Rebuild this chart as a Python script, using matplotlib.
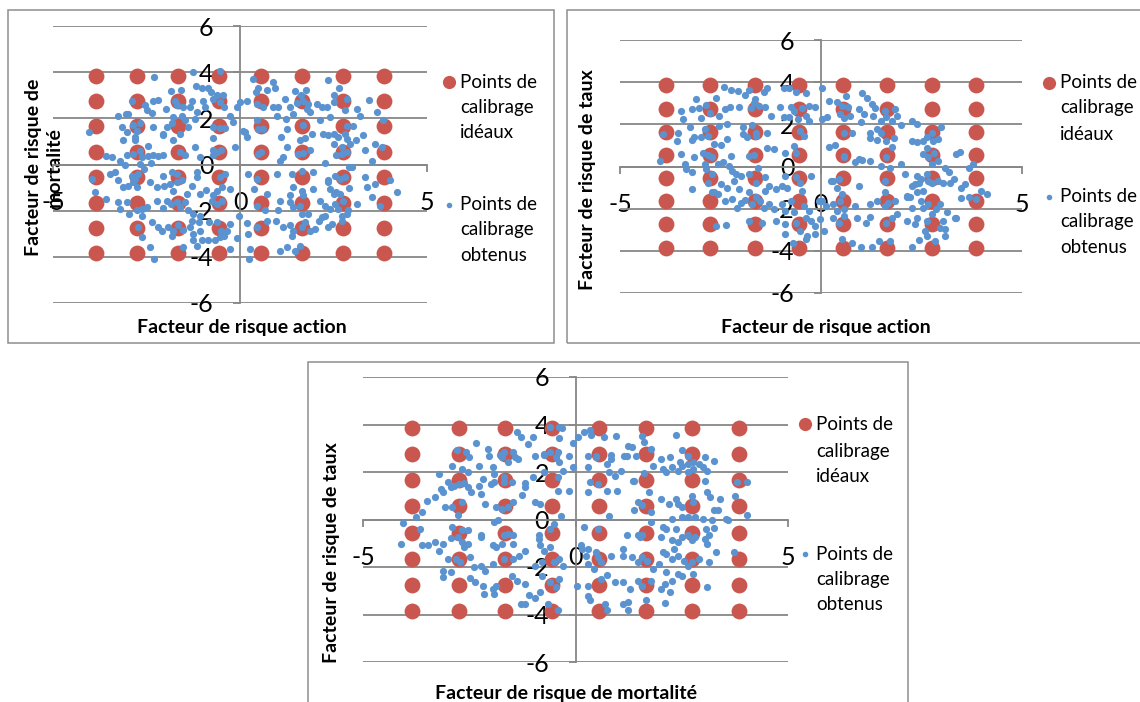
import matplotlib.pyplot as plt
from matplotlib.lines import Line2D
from matplotlib.patches import Rectangle
import numpy as np

plt.rcParams['font.family'] = ['Lato', 'DejaVu Sans']
plt.rcParams['axes.unicode_minus'] = False

W, H = 1140, 702
RED = '#C9574F'
BLUE = '#5A93CF'
GRID = '#878787'

# ideal calibration grid (same levels on both factors)
ideal_levels = [-3.85, -2.75, -1.65, -0.55, 0.55, 1.65, 2.75, 3.85]
x_ticks = [-5, 0, 5]
y_ticks = [-6, -4, -2, 0, 2, 4, 6]

legend_ideal = ['Points de', 'calibrage', 'idéaux']
legend_obtained = ['Points de', 'calibrage', 'obtenus']

# obtained calibration points (x, y)
obtenus_action_mortalite = [
    (-1.25, 4.0), (-0.53, 4.03), (-2.29, 3.79), (0.36, 3.71), (0.87, 3.57), (2.36, 3.67),
    (-1.18, 3.38), (-1.02, 3.32), (-0.85, 3.32), (-0.78, 3.14), (-0.62, 2.99), (-0.46, 3.02),
    (-1.85, 3.18), (-1.59, 3.21), (0.49, 3.32), (0.43, 3.14), (0.71, 3.24), (0.94, 3.32),
    (1.47, 3.18), (1.76, 3.24), (1.63, 3.03), (2.66, 3.32), (2.52, 2.99), (-2.9, 2.77),
    (-2.32, 2.77), (-2.18, 2.8), (-2.54, 2.56), (-2.5, 2.34), (-2.34, 2.23), (-1.98, 2.41),
    (-1.74, 2.77), (-1.68, 2.56), (-1.53, 2.49), (-1.29, 2.77), (-1.35, 2.51), (-0.98, 2.77),
    (-0.94, 2.51), (-0.71, 2.85), (-0.53, 2.7), (-0.43, 2.51), (-0.27, 2.08), (-0.07, 2.51),
    (0.0, 2.7), (0.2, 2.77), (0.45, 2.63), (0.62, 2.51), (0.87, 2.49), (1.02, 2.51),
    (1.2, 2.85), (1.34, 2.51), (1.52, 2.66), (1.69, 2.77), (1.83, 2.63), (1.78, 2.41),
    (2.05, 2.63), (2.18, 2.49), (2.32, 2.51), (2.5, 2.7), (2.81, 2.34), (3.12, 2.41), (3.46, 2.8),
    (2.85, 2.85), (-3.05, 2.17),
    (-3.25, 2.12), (-2.99, 2.2), (-2.85, 1.73), (-2.67, 1.79), (-2.76, 1.47), (-2.81, 1.18),
    (-3.16, 1.62), (-2.32, 1.62), (-2.07, 1.33), (-1.96, 1.62), (-1.83, 1.79), (-1.78, 2.05),
    (-1.56, 2.12), (-1.47, 1.94), (-1.38, 1.62), (-1.2, 1.98), (-1.16, 2.27), (-0.71, 1.62),
    (-0.53, 1.59), (-0.4, 1.59), (-0.18, 1.84), (0.09, 1.47), (0.45, 1.91), (0.49, 1.55),
    (0.62, 1.55), (0.98, 2.08), (1.23, 1.98), (1.25, 1.55), (1.43, 2.17), (1.69, 1.69),
    (1.87, 2.27), (2.14, 1.94), (2.41, 2.05), (2.85, 1.65), (3.03, 1.65), (3.21, 2.08),
    (3.65, 2.27), (3.83, 1.91), (-4.03, 1.4),
    (-3.03, 1.4), (-2.81, 1.07), (-2.05, 1.26), (-1.78, 1.04), (-1.6, 1.33), (-1.2, 0.75),
    (-0.73, 1.16), (-0.13, 0.75), (0.13, 1.4), (0.2, 1.18), (1.09, 1.18), (1.25, 0.75),
    (1.6, 1.04), (1.74, 1.16), (1.92, 1.3), (2.21, 1.33), (2.36, 1.26), (2.5, 1.33),
    (2.63, 1.18), (2.81, 1.33), (2.85, 1.11), (2.94, 0.9), (3.1, 1.04), (3.3, 1.26),
    (3.61, 0.9), (3.81, 0.75), (2.5, 0.9), (2.72, 0.75), (-2.45, 0.82), (-3.12, 1.04),
    (-3.57, 0.35), (-3.43, 0.32), (-3.21, 0.17), (-3.03, 0.39), (-2.87, 0.46), (-2.67, 0.58),
    (-2.63, 0.32), (-2.45, 0.35), (-2.32, 0.39), (-2.18, 0.35), (-2.07, 0.39), (-2.67, 0.03),
    (-2.39, 0.06), (-1.6, 0.53), (-1.47, 0.43), (-1.07, 0.32), (-0.71, 0.39), (-0.62, 0.53),
    (-0.52, 0.61), (0.49, 0.46), (0.55, 0.53), (1.07, 0.17), (1.16, 0.32), (1.56, 0.46),
    (1.69, 0.49), (1.87, 0.61), (2.58, 0.39), (2.72, 0.46), (2.85, 0.53), (3.34, 0.61), (3.52, 0.17),
    (-0.71, 0.61),
    (-3.96, -0.62), (-3.48, -0.4), (-3.34, -0.33), (-3.25, -0.69), (-3.07, -0.04), (-2.9, -0.48),
    (-2.81, -0.62), (-2.72, -0.4), (-2.58, -0.19), (-2.05, -0.48), (-1.83, -0.33), (-1.69, -0.4),
    (-1.56, -0.69), (-1.16, -0.33), (-1.14, -0.55), (-0.53, -0.55), (-0.4, -0.4), (0.22, -0.4),
    (0.45, -0.62), (0.98, -0.4), (1.38, -0.4), (1.65, -0.26), (1.96, -0.33), (2.27, 0.06),
    (2.36, -0.69), (2.54, -0.48), (2.67, -0.62), (2.81, -0.55), (2.92, -0.12), (3.34, -0.55), (4.01, -0.69),
    (2.99, -0.12),
    (-3.88, -1.2), (-3.57, -1.49), (-3.12, -0.98), (-2.99, -0.91), (-2.85, -0.77), (-2.76, -0.98),
    (-2.41, -0.77), (-2.23, -0.98), (-2.03, -0.95), (-1.87, -0.84), (-1.78, -1.13), (-1.43, -1.27),
    (-1.29, -0.91), (-1.07, -1.27), (-0.91, -1.1), (-0.71, -1.34), (-0.62, -1.13), (-0.48, -0.98),
    (-0.27, -1.05), (0.37, -1.05), (0.71, -1.27), (1.34, -1.34), (1.43, -0.98), (1.65, -1.13),
    (1.69, -1.34), (1.96, -1.05), (2.36, -0.77), (2.41, -1.05), (2.5, -1.27), (2.58, -1.2),
    (2.92, -1.01), (3.39, -0.98), (3.52, -1.42), (4.19, -1.2), (3.61, -0.84), (-1.69, -0.77),
    (2.67, -1.27),
    (-3.25, -1.63), (-3.21, -1.92), (-3.03, -1.63), (-2.96, -2.14), (-2.76, -1.99), (-2.63, -1.92),
    (-2.5, -1.85), (-2.23, -1.56), (-2.05, -1.88), (-1.96, -1.56), (-1.85, -1.71), (-1.69, -1.63),
    (-1.6, -1.85), (-1.47, -1.63), (-1.4, -1.99), (-1.25, -2.14), (-1.07, -2.21), (-0.76, -1.56),
    (-0.62, -1.71), (-0.49, -1.56), (-0.02, -2.25), (0.45, -1.78), (0.67, -1.97), (1.07, -1.56),
    (1.02, -1.97), (1.34, -1.63), (1.41, -1.85), (1.6, -1.78), (1.65, -2.14), (1.83, -2.14),
    (2.14, -1.56), (2.27, -1.78), (2.41, -1.92), (2.54, -1.73), (2.63, -1.92), (2.76, -1.56),
    (2.9, -1.97), (3.12, -1.71), (3.74, -1.78), (2.85, -2.14), (2.72, -2.21), (-2.63, -2.25),
    (2.27, -2.21),
    (-2.72, -2.72), (-2.63, -3.15), (-2.36, -2.5), (-2.18, -2.72), (-2.09, -2.86), (-1.92, -2.72),
    (-1.83, -3.08), (-1.78, -2.86), (-1.65, -2.64), (-1.52, -2.83), (-1.35, -2.72), (-1.29, -2.43),
    (-1.25, -3.0), (-1.09, -2.5), (-0.82, -2.5), (-0.62, -2.5), (-0.52, -2.86), (-0.43, -3.08),
    (-0.36, -2.86), (-0.07, -3.18), (0.18, -2.54), (0.22, -3.01), (0.45, -2.72), (0.73, -2.43),
    (0.96, -2.43), (1.16, -2.72), (1.34, -2.64), (1.43, -2.86), (1.65, -2.72), (1.74, -2.5),
    (1.87, -2.86), (2.01, -2.79), (2.12, -2.43), (2.18, -2.28), (2.34, -2.72), (2.45, -2.57), (2.72, -2.43),
    (-1.07, -2.86), (-0.27, -2.57), (1.38, -3.08),
    (-2.41, -3.58), (-2.3, -4.09), (-1.52, -3.58), (-1.25, -3.29), (-1.16, -3.51), (-1.02, -3.29),
    (-0.85, -3.27), (-0.67, -3.27), (-0.53, -3.15), (-0.27, -3.66), (0.27, -3.66), (0.25, -4.09),
    (1.07, -3.73), (1.25, -3.58), (1.47, -3.73), (1.6, -3.51),
]

obtenus_action_taux = [
    (-2.42, 3.78), (-2.25, 3.62), (-2.07, 3.56), (-1.89, 3.4), (-1.8, 3.62), (-1.63, 3.2),
    (-1.43, 3.51), (-1.34, 3.72), (-0.93, 3.72), (-0.79, 3.72), (-0.61, 3.51), (-0.38, 3.47),
    (0.03, 3.72), (0.21, 3.09), (0.39, 3.04), (0.62, 3.35), (1.03, 3.47), (1.14, 3.24),
    (1.26, 2.96), (-3.12, 3.2), (-2.62, 3.23), (-2.85, 2.93), (-3.03, 2.77), (-3.21, 2.72),
    (-3.49, 2.64), (-2.39, 2.72), (-2.27, 2.83), (-2.03, 2.8), (-1.75, 2.77), (-1.66, 2.99),
    (-1.54, 2.88), (-1.39, 2.8), (-1.02, 2.8), (-0.75, 2.83), (-0.66, 2.64), (-0.47, 2.77),
    (-0.29, 2.88), (-0.16, 2.83), (0.53, 2.88), (0.67, 2.8), (0.94, 2.72), (1.35, 2.77),
    (1.58, 2.64), (1.85, 2.72),
    (-2.76, 2.56), (-2.53, 2.41), (-2.98, 2.29), (-3.44, 2.25), (-3.26, 1.88), (-2.89, 1.77),
    (-2.53, 1.93), (-2.34, 2.01), (-1.93, 1.85), (-1.71, 1.98), (-1.61, 1.57), (-1.25, 2.41),
    (-0.93, 2.36), (-0.79, 2.33), (-0.57, 2.25), (-0.38, 2.41), (-0.29, 2.17), (0.03, 2.25),
    (0.16, 2.33), (0.48, 2.48), (0.57, 2.29), (0.71, 2.41), (0.99, 2.09), (1.08, 2.48),
    (1.3, 2.41), (1.49, 2.17), (1.62, 2.33), (1.76, 2.14), (1.9, 2.41), (1.99, 1.98),
    (2.26, 2.17), (2.4, 2.01), (2.99, 1.85), (2.76, 1.61), (1.21, 1.61), (1.4, 1.77),
    (0.57, 1.61), (0.76, 1.61), (-1.34, 1.61), (-0.52, 1.69), (-0.43, 1.46), (-3.94, 1.53), (-3.55, 1.61),
    (-3.17, 1.38), (-1.61, 1.46), (1.49, 1.61),
    (-3.58, 1.22), (-3.21, 1.25), (-2.98, 1.38), (-2.8, 1.46), (-2.66, 1.06), (-2.48, 1.03),
    (-2.34, 1.3), (-1.93, 1.53), (-1.84, 1.38), (-1.34, 0.9), (-1.18, 0.82), (-0.66, 0.98),
    (-0.61, 0.66), (0.21, 0.93), (0.35, 1.03), (1.21, 1.34), (1.4, 1.25), (1.62, 1.22),
    (1.76, 0.93), (1.81, 1.34), (2.26, 1.22), (2.38, 1.14), (2.54, 1.22), (2.63, 1.38),
    (2.78, 1.22), (2.9, 1.3), (2.63, 0.9), (2.54, 0.59), (3.36, 0.59), (3.45, 0.71),
    (-3.49, 0.59), (-3.17, 0.43), (-2.94, 0.62), (-2.8, 0.55), (-2.71, 0.43), (-2.25, 0.51),
    (-1.8, 0.51), (-1.66, 0.55), (-0.89, 0.66), (0.57, 0.51), (0.94, 0.35), (1.62, 0.46),
    (2.67, 0.43), (2.81, 0.62), (0.57, 0.43),
    (-4.01, 0.27), (-3.39, 0.11), (-3.21, -0.28), (-3.35, -0.13), (-2.89, 0.11), (-2.85, -0.13),
    (-2.71, -0.36), (-2.57, 0.11), (-2.44, 0.19), (-2.3, 0.03), (-2.21, -0.21), (-2.12, -0.36),
    (-1.98, -0.44), (-1.8, -0.36), (-1.57, -0.05), (-1.39, -0.52), (-0.89, -0.44), (-0.61, -0.49),
    (-0.25, -0.44), (0.85, 0.19), (1.03, 0.3), (1.21, 0.24), (1.49, 0.03), (1.72, -0.05),
    (1.99, 0.11), (2.08, -0.36), (2.76, 0.11), (2.9, 0.27), (3.08, -0.05), (3.18, -0.28),
    (3.31, -0.6), (3.68, -0.05), (3.77, 0.14), (2.63, -0.36), (2.4, -0.44), (2.49, -0.6), (0.44, -0.6),
    (-3.21, -1.08), (-2.8, -0.76), (-2.66, -1.23), (-2.48, -0.81), (-2.34, -1.0), (-2.16, -0.68),
    (-2.03, -1.08), (-1.8, -1.23), (-1.61, -0.76), (-1.39, -1.16), (-1.3, -0.92), (-1.11, -1.08),
    (-0.98, -0.92), (-0.84, -1.0), (-0.52, -0.76), (-0.47, -1.16), (0.26, -0.68), (0.39, -1.0),
    (0.53, -1.31), (0.94, -0.92), (1.58, -0.68), (1.6, -1.23), (2.13, -1.39), (2.26, -0.92),
    (2.35, -0.84), (2.45, -0.76), (2.67, -0.68), (2.76, -0.76), (2.9, -0.68), (3.04, -0.76),
    (3.2, -0.76), (3.49, -1.0), (3.58, -0.84), (3.99, -1.16), (4.13, -1.31), (2.4, -1.23),
    (0.3, -0.68), (2.54, -1.16), (-2.71, -1.23),
    (-2.57, -1.31), (-2.39, -1.63), (-2.21, -1.55), (-2.09, -1.95), (-1.98, -1.71), (-1.89, -1.6),
    (-1.71, -1.79), (-1.61, -1.47), (-1.52, -1.63), (-1.43, -1.95), (-1.3, -1.79), (-1.16, -2.03),
    (-0.98, -1.79), (-0.89, -2.1), (-0.75, -1.63), (-0.66, -2.18), (-0.43, -1.87), (-0.29, -2.1),
    (0.03, -1.63), (0.12, -1.87), (0.3, -1.79), (0.39, -2.1), (0.48, -1.63), (0.57, -2.03),
    (0.85, -1.87), (1.21, -1.79), (1.4, -1.63), (1.58, -1.87), (1.67, -1.71), (1.85, -1.63),
    (2.13, -1.47), (2.26, -1.95), (2.49, -1.63), (2.54, -1.95), (2.67, -1.79), (2.86, -2.03),
    (2.95, -1.79), (3.13, -2.18), (3.48, -1.5), (3.68, -1.47), (3.86, -1.55), (2.22, -1.47),
    (-0.06, -1.63),
    (-2.62, -2.82), (-2.37, -2.77), (-1.8, -2.58), (-1.48, -2.66), (-1.11, -2.58), (-0.89, -2.74),
    (-0.61, -2.66), (-0.52, -3.05), (-0.38, -2.42), (-0.25, -2.58), (-0.16, -2.82), (-0.02, -2.5),
    (0.07, -3.05), (0.3, -2.42), (0.44, -2.66), (0.57, -2.34), (0.89, -2.42), (1.12, -2.66),
    (1.21, -2.39), (1.62, -2.66), (1.76, -2.42), (1.9, -2.26), (2.13, -2.58), (2.35, -2.74),
    (2.4, -2.42), (2.63, -2.58), (2.76, -2.26), (2.95, -2.9), (3.08, -2.97), (3.04, -2.58), (3.34, -2.42),
    (3.36, -2.42), (2.58, -3.05),
    (-0.89, -3.21), (-0.7, -3.61), (-0.34, -3.29), (-0.16, -3.21), (-0.38, -3.45), (0.53, -3.45),
    (0.76, -3.61), (0.99, -3.84), (1.26, -3.84), (1.44, -3.53), (1.72, -3.53), (2.26, -3.81),
    (2.45, -3.5), (2.63, -3.29), (2.84, -3.53), (3.08, -3.29),
]

obtenus_mortalite_taux = [
    (-1.37, 3.68), (-1.28, 3.47), (-1.01, 3.47), (-1.12, 3.19), (-0.6, 3.89), (-0.32, 3.85),
    (-0.38, 3.42), (-0.06, 3.23), (0.05, 3.47), (0.21, 3.68), (0.34, 3.75), (0.37, 3.56),
    (0.68, 3.47), (0.95, 3.51), (1.24, 3.09), (1.33, 3.05), (1.56, 3.51), (1.61, 3.26),
    (2.37, 3.54), (-2.33, 3.23), (-2.06, 2.95), (-1.68, 2.84), (-1.46, 2.84), (-0.6, 2.84),
    (-0.42, 2.84), (0.3, 2.69), (1.15, 2.69), (1.42, 2.69), (1.78, 2.98), (2.01, 2.55),
    (2.23, 2.62), (2.5, 2.91), (2.64, 2.69), (3.04, 2.62), (3.27, 2.48), (-2.78, 2.91),
    (-2.57, 2.84), (-2.5, 2.62), (-2.04, 2.69), (-1.73, 2.62), (-1.59, 2.44), (-1.35, 2.53),
    (-0.96, 2.69), (-0.74, 2.76), (-0.47, 2.62), (-0.38, 2.44), (0.48, 2.69), (0.75, 2.34),
    (0.84, 2.55), (2.45, 2.41), (2.64, 2.34), (3.0, 2.2), (3.09, 2.06),
    (-0.38, 3.89), (-1.77, 2.72), (-1.43, 2.62), (-0.74, 2.72), (-0.15, 2.69), (0.84, 2.72),
    (1.2, 2.69), (2.77, 2.41), (2.91, 2.34), (0.48, 2.62),
    (-2.9, 2.27), (-3.21, 1.92), (-2.67, 2.13), (-2.54, 1.99), (-2.27, 2.27), (-1.95, 2.2),
    (-1.68, 1.78), (-1.5, 1.6), (-1.19, 1.54), (-1.01, 1.78), (-0.74, 1.99), (-0.42, 1.78),
    (-0.29, 2.06), (-0.06, 2.2), (0.3, 2.2), (0.79, 1.99), (0.93, 1.85), (1.06, 2.06),
    (1.38, 1.64), (1.61, 1.96), (1.83, 2.27), (2.06, 2.13), (2.14, 1.99), (2.28, 2.2),
    (2.41, 2.06), (2.5, 2.27), (2.64, 1.99), (2.77, 2.13), (3.04, 1.64), (3.81, 1.57),
    (4.03, 1.57), (-2.99, 1.6), (-2.86, 1.43), (-2.74, 1.5), (-2.63, 1.54), (-2.54, 1.36),
    (-2.0, 1.5), (-1.91, 1.57), (-1.68, 1.57), (-1.91, 1.92), (-2.18, 1.71), (0.34, 1.57),
    (1.36, 1.64),
    (-3.5, 0.76), (-3.3, 0.94), (-3.17, 1.29), (-3.12, 1.15), (-3.08, 0.52), (-2.9, 0.52),
    (-2.67, 0.73), (-2.45, 1.15), (-2.27, 1.4), (-2.22, 1.08), (-2.13, 0.66), (-1.86, 0.52),
    (-1.73, 0.45), (-1.59, 0.52), (-1.46, 0.73), (-1.25, 1.04), (-1.19, 1.36), (-0.96, 0.73),
    (-0.83, 0.66), (-0.15, 1.22), (0.3, 1.15), (0.52, 1.5), (0.75, 1.22), (0.97, 1.22),
    (1.38, 0.38), (1.47, 0.73), (1.56, 0.59), (1.74, 1.15), (1.78, 0.31), (2.01, 0.87),
    (2.19, 0.66), (2.37, 0.87), (2.41, 0.66), (2.5, 0.52), (2.73, 1.01), (2.77, 0.73),
    (3.09, 1.15), (3.17, 0.94), (3.27, 0.38), (3.36, 0.38), (3.4, 0.87), (3.76, 1.01),
    (4.03, 0.2), (3.58, -0.01), (-2.94, 1.36), (-0.42, 1.22),
    (-4.07, -0.14), (-3.76, 0.1), (-3.66, -0.39), (-3.62, 0.31), (-2.9, -0.32), (-2.76, 0.17),
    (-2.67, -0.46), (-2.54, -0.46), (-2.22, -0.67), (-1.91, -0.11), (-1.82, -0.04), (-1.68, -0.67),
    (-1.59, -0.6), (-0.87, -0.67), (-0.6, -0.39), (-0.51, -0.18), (-0.35, 0.14), (0.21, -0.32),
    (0.52, -0.39), (0.79, 0.14), (1.2, -0.67), (1.56, -0.67), (1.78, -0.11), (2.05, -0.32),
    (2.14, -0.39), (2.28, 0.03), (2.37, -0.39), (2.5, 0.1), (2.64, 0.1), (2.82, 0.1),
    (3.0, 0.03), (3.07, -0.42), (3.22, -0.04), (3.27, -0.36), (3.54, 0.03), (-1.46, -0.67),
    (1.47, -0.67), (3.13, -0.67),
    (-4.11, -1.02), (-3.48, -1.09), (-3.3, -0.95), (-3.21, -1.31), (-3.11, -1.02), (-2.94, -0.79),
    (-2.76, -0.74), (-2.67, -0.95), (-2.63, -1.16), (-2.54, -1.02), (-2.22, -0.74), (-1.95, -1.09),
    (-1.86, -1.16), (-1.73, -1.02), (-1.46, -1.02), (-1.19, -1.31), (-0.87, -0.81), (-0.83, -1.09),
    (-0.74, -1.31), (-0.6, -1.16), (0.12, -1.09), (0.16, -1.24), (1.11, -1.24), (1.51, -0.74),
    (2.01, -0.74), (2.28, -0.88), (2.32, -1.24), (2.41, -0.95), (2.5, -0.74), (2.64, -0.67),
    (2.73, -0.88), (2.82, -0.74), (3.04, -0.81), (3.09, -1.02), (3.31, -1.38), (3.72, -1.38),
    (-3.62, -1.09), (0.3, -1.24), (0.48, -1.38), (2.05, -1.38),
    (-3.12, -2.15), (-2.99, -1.66), (-2.81, -1.66), (-2.72, -1.8), (-2.49, -1.59), (-2.4, -2.01),
    (-2.22, -1.94), (-2.13, -2.15), (-1.95, -1.87), (-1.68, -1.66), (-1.46, -1.66), (-0.96, -1.94),
    (-0.78, -1.8), (-0.51, -1.8), (-0.38, -1.66), (-0.29, -1.94), (0.25, -1.52), (0.3, -1.87),
    (0.43, -2.08), (0.52, -1.59), (0.61, -1.8), (0.84, -1.52), (1.33, -1.59), (1.47, -1.8),
    (1.56, -1.59), (1.69, -1.73), (1.83, -2.08), (1.96, -1.87), (2.14, -1.45), (2.28, -1.66),
    (2.41, -1.52), (2.55, -1.73), (2.73, -1.8), (2.91, -1.66), (3.13, -1.8), (2.41, -2.29),
    (2.5, -2.36), (2.77, -2.29), (2.14, -2.22), (-2.94, -2.22), (-1.32, -1.52), (1.11, -1.52),
    (2.64, -1.94),
    (-3.12, -2.43), (-2.49, -2.47), (-2.36, -2.64), (-2.18, -2.78), (-1.95, -2.92), (-1.86, -2.78),
    (-1.5, -2.36), (-1.37, -2.57), (-1.19, -2.71), (-0.78, -2.36), (-0.6, -2.64), (-0.47, -2.85),
    (-0.38, -2.5), (0.03, -2.78), (0.3, -2.78), (0.61, -2.5), (0.75, -2.33), (0.93, -2.64),
    (1.11, -2.64), (1.29, -2.92), (1.47, -2.57), (1.56, -2.78), (1.78, -2.57), (2.01, -2.92),
    (2.1, -2.71), (2.28, -2.57), (3.09, -2.85), (-2.16, -3.13),
    (-1.91, -3.13), (-1.28, -3.55), (-1.1, -3.17), (-0.96, -3.31), (-0.83, -3.06), (-0.65, -3.55),
    (-0.42, -3.83), (0.3, -3.2), (0.34, -3.41), (0.7, -3.55), (0.75, -3.83), (1.11, -3.55),
    (1.24, -3.48), (1.24, -3.83), (1.65, -3.41), (2.1, -3.51), (2.23, -3.06), (-1.19, -3.55),
]


def fig_pt(px, py):
    return px / W, 1 - py / H


def panel(fig, frame, box, points, xlabel, ylabel, xlab_px, ylab_px, leg):
    # outer chart border (pixel box)
    x0, y0, x1, y1 = frame
    fig.add_artist(Rectangle(fig_pt(x0, y1), (x1 - x0) / W, (y1 - y0) / H,
                             transform=fig.transFigure, fill=False,
                             ec='#8E8E8E', lw=1.1))
    bx0, by0, bx1, by1 = box
    ax = fig.add_axes([bx0 / W, 1 - by1 / H, (bx1 - bx0) / W, (by1 - by0) / H])
    ax.patch.set_alpha(0)
    ax.set_xlim(-5, 5)
    ax.set_ylim(-6, 6)

    gx, gy = np.meshgrid(ideal_levels, ideal_levels)
    ax.scatter(gx.ravel(), gy.ravel(), s=130, c=RED, lw=0, zorder=3)
    xs, ys = zip(*points)
    ax.scatter(xs, ys, s=27, c=BLUE, lw=0, zorder=4)

    for s in ['top', 'right']:
        ax.spines[s].set_visible(False)
    for s in ['left', 'bottom']:
        ax.spines[s].set_position(('data', 0))
        ax.spines[s].set_color(GRID)
        ax.spines[s].set_linewidth(1.3)

    ax.set_xticks(x_ticks)
    ax.set_yticks(y_ticks)
    ax.yaxis.grid(True, color=GRID, lw=1.3)
    ax.set_axisbelow(True)
    ax.tick_params(axis='x', direction='out', length=5, width=1.3, color=GRID,
                   pad=14, labelsize=18)
    ax.tick_params(axis='y', direction='out', length=5, width=1.3, color=GRID,
                   pad=14, labelsize=18)

    ax.set_xlabel(xlabel, fontweight='bold', fontsize=14, va='center')
    ax.xaxis.set_label_coords((xlab_px[0] - bx0) / (bx1 - bx0),
                              (by1 - xlab_px[1]) / (by1 - by0))
    ax.set_ylabel(ylabel, fontweight='bold', fontsize=14, va='center',
                  ha='center', multialignment='center', linespacing=1.3)
    ax.yaxis.set_label_coords((ylab_px[0] - bx0) / (bx1 - bx0),
                              (by1 - ylab_px[1]) / (by1 - by0))

    # legend drawn by hand: marker beside the first of three text lines
    mx, tx, ideal_rows, obt_rows = leg
    for rows, lines, color, ms in [(ideal_rows, legend_ideal, RED, 9.5),
                                   (obt_rows, legend_obtained, BLUE, 4)]:
        fig.add_artist(Line2D([mx / W], [1 - rows[0] / H], marker='o', ms=ms,
                              mfc=color, mec='none', ls='none',
                              transform=fig.transFigure))
        for ry, line in zip(rows, lines):
            fig.text(tx / W, 1 - ry / H, line, ha='left', va='center', fontsize=13.5)
    return ax


fig = plt.figure(figsize=(W / 100, H / 100), dpi=100)

panel(fig, (8, 10, 554, 343), (53, 26, 427, 303), obtenus_action_mortalite,
      'Facteur de risque action', 'Facteur de risque de\nmortalité',
      (242, 328), (44, 167),
      (449, 460, (82, 107, 132), (205, 230, 255)))

panel(fig, (567, 10, 1148, 343), (620, 40, 1022, 293), obtenus_action_taux,
      'Facteur de risque action', 'Facteur de risque de taux',
      (826, 328), (587, 180),
      (1049, 1060, (83, 108, 135), (197, 222, 248)))

panel(fig, (308, 362, 908, 710), (363, 377, 788, 662), obtenus_mortalite_taux,
      'Facteur de risque de mortalité', 'Facteur de risque de taux',
      (566, 693), (331, 553),
      (805, 816, (424, 451, 476), (554, 580, 605)))

fig.savefig('out.png', dpi=100, facecolor='white')
